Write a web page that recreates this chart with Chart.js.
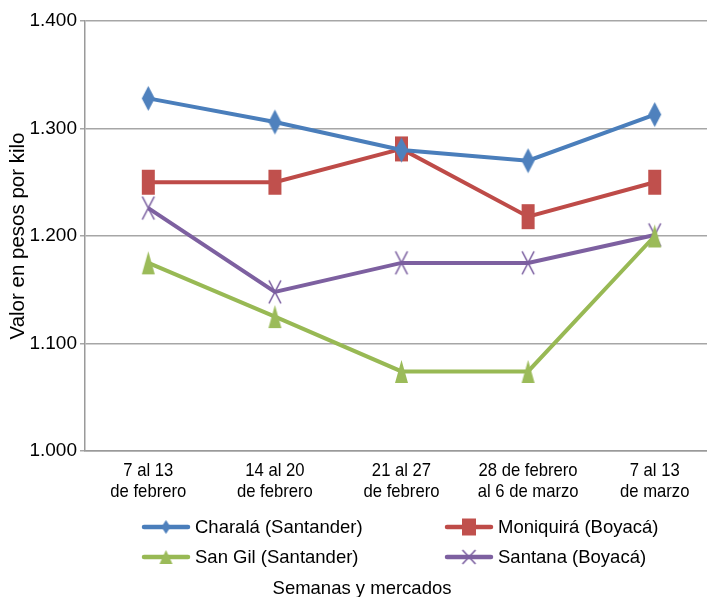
<!DOCTYPE html>
<html>
<head>
<meta charset="utf-8">
<script src="https://cdn.jsdelivr.net/npm/chart.js@4"></script>
<style>
html,body{margin:0;padding:0;overflow:hidden;background:#fff;}
#wrap{position:relative;width:730px;height:600px;}
#c{width:730px;height:600px;display:block;}
</style>
</head>
<body>
<div id="wrap"><canvas id="c" width="730" height="600"></canvas></div>
<script>
const categories = [
  ["7 al 13", "de febrero"],
  ["14 al 20", "de febrero"],
  ["21 al 27", "de febrero"],
  ["28 de febrero", "al 6 de marzo"],
  ["7 al 13", "de marzo"]
];
const charala   = [1328, 1306, 1280, 1270, 1313];
const moniquira = [1250, 1250, 1281, 1218, 1250];
const sanGil    = [1175, 1125, 1074, 1074, 1200];
const santana   = [1226, 1148, 1175, 1175, 1201];
const yTicks = [1000, 1100, 1200, 1300, 1400];

function marker(type, color, w, h) {
  const pad = 2;
  const c = document.createElement('canvas');
  c.width = w + pad * 2; c.height = h + pad * 2;
  const g = c.getContext('2d');
  g.fillStyle = color; g.strokeStyle = color;
  const cx = c.width / 2, cy = c.height / 2, hw = w / 2, hh = h / 2;
  g.beginPath();
  if (type === 'diamond') {
    g.moveTo(cx, cy - hh); g.lineTo(cx + hw, cy); g.lineTo(cx, cy + hh); g.lineTo(cx - hw, cy); g.closePath(); g.fill();
  } else if (type === 'rect') {
    g.rect(cx - hw, cy - hh, w, h); g.fill();
  } else if (type === 'tri') {
    g.moveTo(cx, cy - hh); g.lineTo(cx + hw, cy + hh); g.lineTo(cx - hw, cy + hh); g.closePath(); g.fill();
  } else if (type === 'x') {
    g.lineWidth = 1.6;
    g.moveTo(cx - hw, cy - hh); g.lineTo(cx + hw, cy + hh);
    g.moveTo(cx + hw, cy - hh); g.lineTo(cx - hw, cy + hh); g.stroke();
  }
  return c;
}

const series = [
  {label: 'Charalá (Santander)', data: charala, line: '#4A7EBB',
   mk: marker('diamond', '#4F81BD', 13, 25), lg: marker('diamond', '#4F81BD', 9, 14)},
  {label: 'Moniquirá (Boyacá)', data: moniquira, line: '#BE4B48',
   mk: marker('rect', '#C0504D', 13, 25), lg: marker('rect', '#C0504D', 14, 17)},
  {label: 'San Gil (Santander)', data: sanGil, line: '#98B954',
   mk: marker('tri', '#9BBB59', 13, 23), lg: marker('tri', '#9BBB59', 13, 14)},
  {label: 'Santana (Boyacá)', data: santana, line: '#7D60A0',
   mk: marker('x', '#7B5FA0', 12, 23), lg: marker('x', '#7B5FA0', 13, 14)}
];

const FONT = '"Liberation Sans", Arial, sans-serif';

const xLabelPlugin = {
  id: 'xLabels',
  afterDraw(chart) {
    const ctx = chart.ctx;
    const sx = chart.scales.x;
    ctx.save();
    ctx.font = '18.5px ' + FONT;
    ctx.fillStyle = '#000';
    ctx.textAlign = 'center';
    ctx.textBaseline = 'middle';
    sx.ticks.forEach((t, i) => {
      const x = sx.getPixelForTick(i);
      const lines = chart.data.labels[i];
      lines.forEach((ln, j) => {
        ctx.save();
        ctx.translate(x, sx.top + 19.5 + j * 21);
        ctx.scale(0.9, 1);
        ctx.fillText(ln, 0, 0);
        ctx.restore();
      });
    });
    ctx.restore();
  }
};

const legendPlugin = {
  id: 'customLegend',
  afterDraw(chart) {
    const ctx = chart.ctx;
    const pos = [[142, 527], [445, 527], [142, 557], [445, 557]];
    ctx.save();
    ctx.font = '18.5px ' + FONT;
    ctx.textBaseline = 'middle';
    ctx.fillStyle = '#000';
    series.forEach((s, i) => {
      const [x, y] = pos[i];
      ctx.strokeStyle = s.line;
      ctx.lineWidth = 4.5;
      ctx.lineCap = 'round';
      ctx.beginPath(); ctx.moveTo(x + 2, y); ctx.lineTo(x + 46, y); ctx.stroke();
      const img = s.lg;
      ctx.drawImage(img, x + 24 - img.width / 2, y - img.height / 2);
      ctx.fillText(chart.data.datasets[i].label, x + 53, y + 1);
    });
    ctx.restore();
  }
};

new Chart(document.getElementById('c'), {
  type: 'line',
  data: {
    labels: categories,
    datasets: series.map(s => ({
      label: s.label,
      data: s.data,
      borderColor: s.line,
      backgroundColor: s.line,
      borderWidth: 4,
      pointStyle: s.mk,
      pointRadius: 8,
      tension: 0,
      fill: false
    }))
  },
  options: {
    responsive: false,
    animation: false,
    devicePixelRatio: 1,
    layout: {padding: {top: 21, right: 6, left: 0, bottom: 0}},
    plugins: {
      legend: {display: false},
      tooltip: {enabled: false},
      title: {
        display: true,
        position: 'bottom',
        text: 'Semanas y mercados',
        color: '#000',
        font: {family: FONT, size: 18.5, weight: 'normal'},
        padding: {top: 0, bottom: 0}
      }
    },
    scales: {
      x: {
        type: 'category',
        offset: true,
        grid: {display: false},
        border: {display: true, color: '#9a9a9a', width: 1.5},
        ticks: {display: false},
        afterFit(s) { s.height = 126.8; }
      },
      y: {
        min: 1000,
        max: 1400,
        afterBuildTicks(s) { s.ticks = yTicks.map(v => ({value: v})); },
        grid: {color: '#a6a6a6', lineWidth: 1.5, tickLength: 5, drawTicks: true},
        border: {display: true, color: '#9a9a9a', width: 1.5},
        ticks: {
          color: '#000',
          padding: 3,
          font: {family: FONT, size: 19},
          callback: v => Math.floor(v / 1000) + '.' + String(v % 1000).padStart(3, '0')
        },
        title: {
          display: true,
          text: 'Valor en pesos por kilo',
          color: '#000',
          font: {family: FONT, size: 20.5},
          padding: {top: 6, bottom: 0}
        },
        afterFit(s) { s.width = 85; }
      }
    }
  },
  plugins: [xLabelPlugin, legendPlugin]
});
</script>
</body>
</html>
